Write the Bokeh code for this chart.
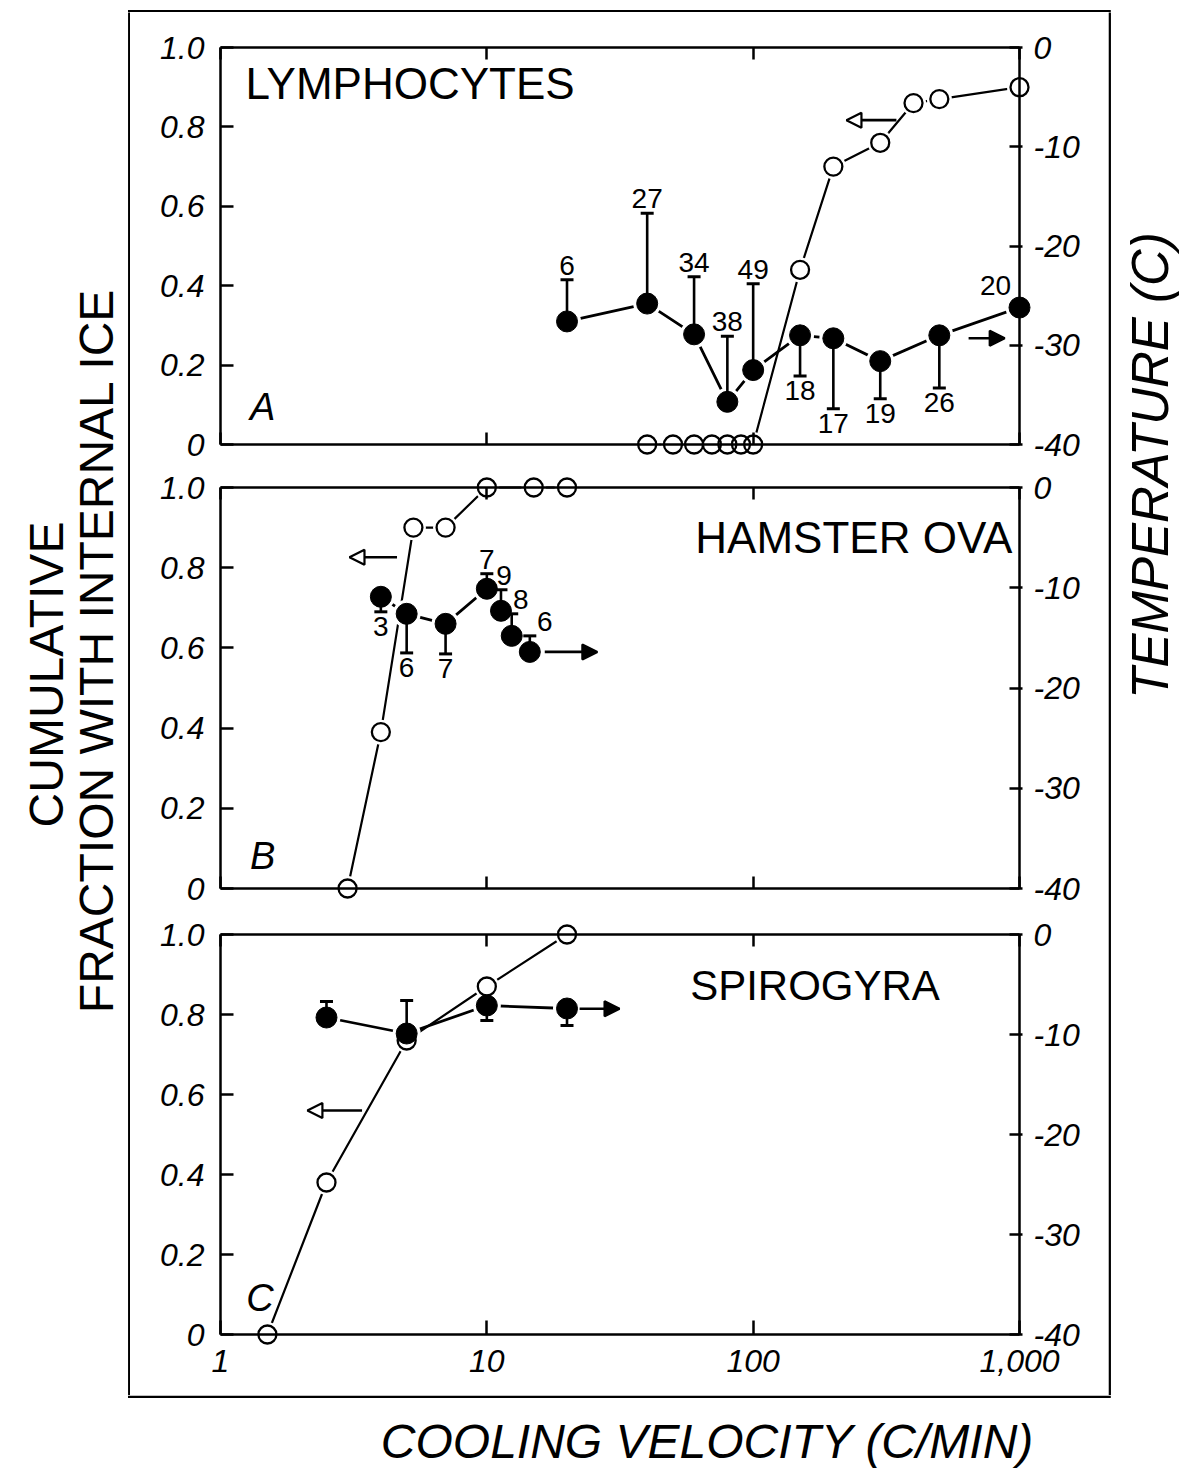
import math
from bokeh.plotting import figure
from bokeh.models import (Range1d, LinearAxis, LogAxis, FixedTicker, Label, Arrow,
                          NormalHead, CustomJSTickFormatter, ColumnDataSource)
from bokeh.layouts import row, column
from bokeh.embed import file_html
from bokeh.resources import INLINE
from bokeh.core.properties import value

FONT = "Liberation Sans"

# ------------------------------------------------------------------ data
x_ticks = [1, 10, 100, 1000]
x_tick_labels = ["1", "10", "100", "1,000"]
frac_ticks = [0, 0.2, 0.4, 0.6, 0.8, 1.0]
frac_tick_labels = ["0", "0.2", "0.4", "0.6", "0.8", "1.0"]
temp_ticks = [-40, -30, -20, -10, 0]
temp_tick_labels = ["-40", "-30", "-20", "-10", "0"]

# A: lymphocytes
lym_frac_rate = [40, 50, 60, 70, 80, 90, 100, 150, 200, 300, 400, 500, 1000]
lym_frac = [0, 0, 0, 0, 0, 0, 0, 0.44, 0.70, 0.76, 0.86, 0.87, 0.90]
lym_temp_rate = [20, 40, 60, 80, 100, 150, 200, 300, 500, 1000]
lym_temp = [-27.6, -25.8, -28.9, -35.7, -32.5, -29.0, -29.3, -31.6, -29.0, -26.2]
lym_temp_err = [4.2, 9.1, 5.8, 6.6, 8.7, -4.1, -7.1, -3.8, -5.3, 0]
lym_n = ["6", "27", "34", "38", "49", "18", "17", "19", "26", "20"]

# B: hamster ova
ova_frac_rate = [3, 4, 5.3, 7, 10, 15, 20]
ova_frac = [0, 0.39, 0.90, 0.90, 1.0, 1.0, 1.0]
ova_temp_rate = [4, 5, 7, 10, 11.3, 12.4, 14.5]
ova_temp = [-10.9, -12.6, -13.6, -10.1, -12.3, -14.8, -16.4]
ova_temp_err = [-1.5, -3.9, -3.0, 1.5, 2.1, 2.2, 1.6]
ova_n = ["3", "6", "7", "7", "9", "8", "6"]

# C: spirogyra
spi_frac_rate = [1.5, 2.5, 5, 10, 20]
spi_frac = [0, 0.38, 0.735, 0.87, 1.0]
spi_temp_rate = [2.5, 5, 10, 20]
spi_temp = [-8.3, -9.9, -7.1, -7.4]
spi_temp_err = [1.6, 3.3, -1.5, -1.7]

# ------------------------------------------------------------------ geometry / style
DEC = 799 / 3.0      # pixels per decade
MARG = 14            # pixel margin around each box so edge markers are not clipped
MID_W = 978


def fmt(ticks, labels):
    return CustomJSTickFormatter(
        args=dict(t=ticks, l=labels),
        code="""
        for (let i = 0; i < t.length; i++) {
            if (Math.abs(t[i] - tick) < 1e-6 * Math.max(1, Math.abs(t[i]))) return l[i];
        }
        return '';""")


def line_axis(ax, tin, tout):
    """axis drawn at the box edge: line + inward ticks, no labels"""
    ax.axis_line_width = 2.5
    ax.axis_line_color = "black"
    ax.major_tick_line_width = 2.5
    ax.major_tick_line_color = "black"
    ax.major_tick_in = tin
    ax.major_tick_out = tout
    ax.minor_tick_line_color = None
    ax.major_label_text_font_size = "0px"
    ax.major_label_standoff = 0


def label_axis(ax, standoff):
    """axis at the frame edge carrying only the tick labels"""
    ax.axis_line_color = None
    ax.major_tick_line_color = None
    ax.minor_tick_line_color = None
    ax.major_tick_in = 0
    ax.major_tick_out = 0
    ax.major_label_text_font = FONT
    ax.major_label_text_font_style = "italic"
    ax.major_label_text_font_size = "32px"
    ax.major_label_text_color = "black"
    ax.major_label_standoff = standoff


def make_panel(height, top_b, box_h, bottom_b, xlabels):
    ym = MARG / box_h
    xlo = 10 ** (-MARG / DEC)
    xhi = 10 ** (3 + MARG / DEC)
    p = figure(width=MID_W, height=height, x_axis_type="log",
               x_range=Range1d(xlo, xhi), y_range=Range1d(-ym, 1 + ym),
               x_axis_location=None, y_axis_location=None,
               min_border_left=76, min_border_right=75,
               min_border_top=top_b, min_border_bottom=bottom_b,
               toolbar_location=None, output_backend="svg",
               outline_line_color=None, background_fill_color="white",
               border_fill_color="white")
    p.extra_y_ranges = {"temp": Range1d(-40 - 40 * ym, 40 * ym)}
    p.grid.visible = False

    # tick-label axes (at the frame edge, first so they sit next to the frame)
    ll = LinearAxis(ticker=FixedTicker(ticks=frac_ticks, minor_ticks=[]),
                    formatter=fmt(frac_ticks, frac_tick_labels))
    label_axis(ll, 2)
    p.add_layout(ll, "left")
    rl = LinearAxis(y_range_name="temp",
                    ticker=FixedTicker(ticks=temp_ticks, minor_ticks=[]),
                    formatter=fmt(temp_ticks, temp_tick_labels))
    label_axis(rl, 0)
    p.add_layout(rl, "right")
    if xlabels:
        bl = LogAxis(ticker=FixedTicker(ticks=x_ticks, minor_ticks=[]),
                     formatter=fmt(x_ticks, x_tick_labels))
        label_axis(bl, 1)
        p.add_layout(bl, "below")

    # box axes (lines + ticks at the data limits)
    left = LinearAxis(ticker=FixedTicker(ticks=frac_ticks, minor_ticks=[]),
                      formatter=fmt([], []), fixed_location=1, bounds=(0, 1))
    line_axis(left, 13, 0)
    p.add_layout(left, "left")

    right = LinearAxis(y_range_name="temp",
                       ticker=FixedTicker(ticks=temp_ticks, minor_ticks=[]),
                       formatter=fmt([], []), fixed_location=1000, bounds=(-40, 0))
    line_axis(right, 10, 3)
    p.add_layout(right, "right")

    top = LogAxis(ticker=FixedTicker(ticks=x_ticks, minor_ticks=[]),
                  formatter=fmt([], []), fixed_location=1, bounds=(1, 1000))
    line_axis(top, 12, 0)
    p.add_layout(top, "above")

    bottom = LogAxis(ticker=FixedTicker(ticks=x_ticks, minor_ticks=[]),
                     formatter=fmt([], []), fixed_location=0, bounds=(1, 1000))
    line_axis(bottom, 14 if xlabels else 12, 0)
    p.add_layout(bottom, "below")
    return p


def add_series(p, fr_x, fr_y, t_x, t_y, t_err, n_labels=None, label_dx=None):
    p.line(fr_x, fr_y, line_width=2.2, color="black")
    p.line(t_x, t_y, line_width=2.8, color="black", y_range_name="temp")
    p.scatter(fr_x, fr_y, size=25, fill_color="white", line_color=None)
    p.scatter(t_x, t_y, size=28, fill_color="white", line_color=None, y_range_name="temp")

    ex = [x for x, e in zip(t_x, t_err) if e != 0]
    ey0 = [y for y, e in zip(t_y, t_err) if e != 0]
    ey1 = [y + e for y, e in zip(t_y, t_err) if e != 0]
    p.segment(ex, ey0, ex, ey1, line_width=2.6, color="black", y_range_name="temp")
    p.scatter(ex, ey1, marker="dash", size=13, line_width=3, line_color="black",
              y_range_name="temp")

    p.scatter(fr_x, fr_y, size=18, fill_color=None, line_color="black", line_width=2.3)
    p.scatter(t_x, t_y, size=21, fill_color="black", line_color="black", y_range_name="temp")

    if n_labels:
        dx = label_dx or [0] * len(n_labels)
        up = dict(x=[], y=[], t=[], xo=[], yo=[])
        dn = dict(x=[], y=[], t=[], xo=[], yo=[])
        for x, y, e, t, d in zip(t_x, t_y, t_err, n_labels, dx):
            if e > 0:
                g = up; g["y"].append(y + e); g["yo"].append(-5); g["xo"].append(d)
            elif e < 0:
                g = dn; g["y"].append(y + e); g["yo"].append(5); g["xo"].append(d)
            else:
                g = up; g["y"].append(y); g["yo"].append(-13); g["xo"].append(-24)
            g["x"].append(x); g["t"].append(t)
        for g, base in ((up, "bottom"), (dn, "top")):
            if g["x"]:
                p.text(x="x", y="y", text="t", x_offset="xo", y_offset="yo",
                       source=ColumnDataSource(g), y_range_name="temp",
                       text_font=value(FONT), text_font_size="28px",
                       text_align="center", text_baseline=base, text_color="black")


def arrow(p, x0, x1, y, filled, rng="default"):
    head = NormalHead(size=15, line_width=2.2, line_color="black",
                      fill_color="black" if filled else "white")
    p.add_layout(Arrow(end=head, x_start=x0, y_start=y, x_end=x1, y_end=y,
                       line_width=2.6, line_color="black", y_range_name=rng))


def name_label(p, x, y, text, align="left", italic=False, size="40px"):
    p.add_layout(Label(x=x, y=y, text=text, text_font=FONT, text_font_size=size,
                       text_align=align, text_baseline="middle", text_color="black",
                       text_font_style="italic" if italic else "normal"))


# ------------------------------------------------------------------ panels
pA = make_panel(454, 21, 397, 8, False)
add_series(pA, lym_frac_rate, lym_frac, lym_temp_rate, lym_temp, lym_temp_err, lym_n)
arrow(pA, 345, 224, 0.817, False)
arrow(pA, 644, 880, -29.3, True, "temp")
name_label(pA, 1.24, 0.91, "LYMPHOCYTES", size="44px")
name_label(pA, 1.29, 0.095, "A", italic=True, size="38px")

pB = make_panel(445, 7, 401, 9, False)
add_series(pB, ova_frac_rate, ova_frac, ova_temp_rate, ova_temp, ova_temp_err, ova_n,
           label_dx=[0, 0, 0, 0, 3, 9, 15])
arrow(pB, 4.6, 3.05, 0.826, False)
arrow(pB, 16.5, 26, -16.4, True, "temp")
name_label(pB, 940, 0.875, "HAMSTER OVA", align="right", size="44px")
name_label(pB, 1.29, 0.082, "B", italic=True, size="38px")

pC = make_panel(484, 9, 400, 47, True)
add_series(pC, spi_frac_rate, spi_frac, spi_temp_rate, spi_temp, spi_temp_err)
arrow(pC, 3.4, 2.12, 0.56, False)
arrow(pC, 22.3, 31.5, -7.43, True, "temp")
name_label(pC, 58, 0.872, "SPIROGYRA", size="42px")
name_label(pC, 1.25, 0.092, "C", italic=True, size="38px")


# ------------------------------------------------------------------ frame + titles
def blank(w, h):
    f = figure(width=w, height=h, x_range=Range1d(0, w), y_range=Range1d(h, 0),
               x_axis_location=None, y_axis_location=None, min_border=0,
               toolbar_location=None, output_backend="svg", outline_line_color=None)
    f.grid.visible = False
    return f


TOP_H = 12
MID_H = 454 + 445 + 484
X_H = 1479 - TOP_H - MID_H

T = blank(1183, TOP_H)
T.segment(x0=[127.5], y0=[10.8], x1=[1110.3], y1=[10.8], line_width=2.5, color="black")

L = blank(130, MID_H)
L.segment(x0=[128.8], y0=[-3], x1=[128.8], y1=[MID_H + 3], line_width=2.5, color="black")
L.add_layout(Label(x=46, y=674 - TOP_H, text="CUMULATIVE", angle=math.pi / 2,
                   text_font=FONT, text_font_size="48px", text_align="center",
                   text_baseline="middle", text_color="black"))
L.add_layout(Label(x=96, y=650 - TOP_H, text="FRACTION WITH INTERNAL ICE",
                   angle=math.pi / 2, text_font=FONT, text_font_size="48px",
                   text_align="center", text_baseline="middle", text_color="black"))

R = blank(1183 - 130 - MID_W, MID_H)
R.segment(x0=[1.2], y0=[-3], x1=[1.2], y1=[MID_H + 3], line_width=2.5, color="black")
R.add_layout(Label(x=42, y=465 - TOP_H, text="TEMPERATURE (C)", angle=math.pi / 2,
                   text_font=FONT, text_font_size="51px", text_font_style="italic",
                   text_align="center", text_baseline="middle", text_color="black"))

X = blank(1183, X_H)
X.segment(x0=[127.5], y0=[1.2], x1=[1110.3], y1=[1.2], line_width=2.5, color="black")
X.add_layout(Label(x=707, y=46, text="COOLING VELOCITY (C/MIN)",
                   text_font=FONT, text_font_size="48px", text_font_style="italic",
                   text_align="center", text_baseline="middle", text_color="black"))

layout = column(T, row(L, column(pA, pB, pC), R), X)

open("out.html", "w").write(file_html(layout, INLINE))
